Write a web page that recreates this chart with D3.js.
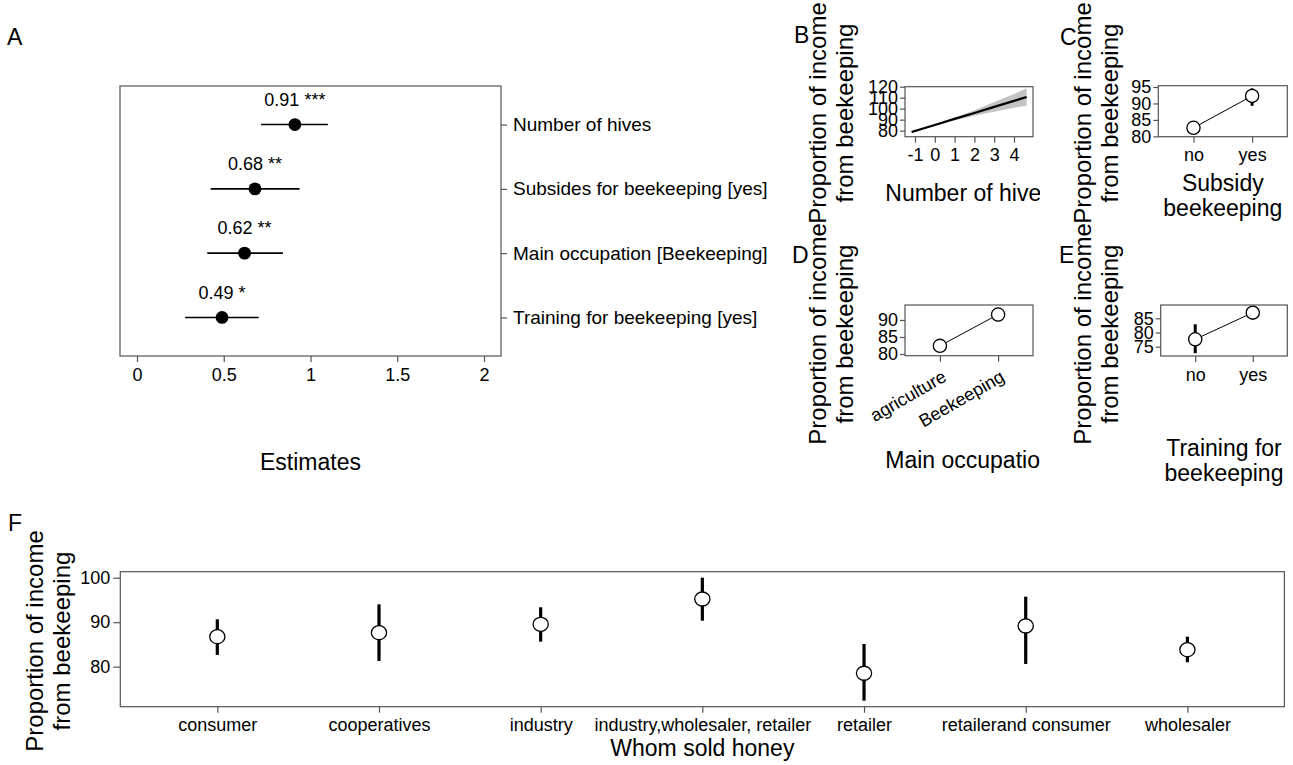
<!DOCTYPE html>
<html>
<head>
<meta charset="utf-8">
<script src="https://cdn.jsdelivr.net/npm/d3@7"></script>
<style>
  body  { margin: 0; background: #fff; }
  svg   { font-family: "Liberation Sans", Arial, sans-serif; }
  .frame { fill: none; stroke: #555; stroke-width: 1.2; }
  .letter { font-size: 23px; }
  .title  { font-size: 23px; text-anchor: middle; }
</style>
</head>
<body>
<script>
// Panel A - model estimates
var estTerms = ["Number of hives", "Subsides for beekeeping [yes]", "Main occupation [Beekeeping]", "Training for beekeeping [yes]"]
var estValue = [0.91, 0.68, 0.62, 0.49]
var estLow   = [0.715, 0.425, 0.405, 0.277]
var estHigh  = [1.10, 0.937, 0.841, 0.701]
var estStars = ["***", "**", "**", "*"]
var estTicks = [0, 0.5, 1, 1.5, 2]

// Panel B - number of hives (fit + ribbon)
var hivesX    = [-1.17, 0, 1, 2, 3, 4, 4.64]
var hivesFit  = [78.8, 85.2, 90.7, 96.1, 101.6, 107.1, 110.6]
var hivesLow  = [77.8, 84.4, 89.5, 93.6, 97.1, 100.8, 102.6]
var hivesHigh = [79.8, 86.0, 91.9, 98.6, 106.1, 113.4, 118.6]
var hivesXTicks = [-1, 0, 1, 2, 3, 4]
var hivesYTicks = [80, 90, 100, 110, 120]

// Panel C - subsidy
var subsidyCats = ["no", "yes"]
var subsidyMean = [82.6, 92.3]
var subsidyLow  = [81.2, 89.3]
var subsidyHigh = [84.0, 94.6]
var subsidyTicks = [80, 85, 90, 95]

// Panel D - main occupation
var occCats = ["agriculture", "Beekeeping"]
var occMean = [82.4, 91.6]
var occLow  = [81.0, 89.6]
var occHigh = [83.8, 93.3]
var occTicks = [80, 85, 90]

// Panel E - training
var trainCats = ["no", "yes"]
var trainMean = [77.6, 87.0]
var trainLow  = [72.7, 85.8]
var trainHigh = [82.9, 88.2]
var trainTicks = [75, 80, 85]

// Panel F - whom sold honey
var buyers     = ["consumer", "cooperatives", "industry", "industry,wholesaler, retailer", "retailer", "retailerand consumer", "wholesaler"]
var buyerMean  = [86.74, 87.64, 89.53, 95.21, 78.52, 89.15, 83.82]
var buyerLow   = [82.63, 81.28, 85.62, 90.34, 72.36, 80.61, 80.99]
var buyerHigh  = [90.65, 94.02, 93.35, 100.0, 85.10, 95.73, 86.74]
var buyerTicks = [80, 90, 100]

var TICK_SIZE = 18

var svg = d3.select("body").append("svg")
            .attr("width", 1293)
            .attr("height", 765)

// Clip for the B/D column (x titles are cut in the original)
svg.append("clipPath").attr("id", "clipBD")
   .append("rect").attr("x", 0).attr("y", 0).attr("width", 1040).attr("height", 765)

// Group translated to a panel's top-left corner
var panel = function (parent, box) {
  var g = parent.append("g")
                .attr("transform", "translate(" + box.x + "," + box.y + ")")
  return g
}

var frame = function (g, box) {
  g.append("rect")
   .attr("class", "frame")
   .attr("width", box.w)
   .attr("height", box.h)
}

// Axis cleanup: no domain line, grey ticks, bigger black labels
var styleAxis = function (g, size) {
  g.attr("font-family", null).attr("font-size", null)
  g.select(".domain").remove()
  g.selectAll(".tick line").attr("stroke", "#555").attr("stroke-width", 1.2)
  g.selectAll("text").attr("fill", "#000").style("font-size", (size || TICK_SIZE) + "px")
}

// Two line rotated y title
var yTitle = function (x, cy, lines) {
  var _lines = lines || ["Proportion of income", "from beekeeping"]
  _lines.forEach(function (l, i) {
    svg.append("text")
       .attr("class", "title")
       .attr("transform", "translate(" + (x + i * 27) + "," + cy + ") rotate(-90)")
       .attr("dy", "0.35em")
       .style("font-size", "24px")
       .text(l)
  })
}

var xTitle = function (parent, x, y, lines) {
  lines.forEach(function (l, i) {
    parent.append("text")
          .attr("class", "title")
          .attr("x", x)
          .attr("y", y + i * 25)
          .attr("dy", "0.35em")
          .text(l)
  })
}

var letter = function (t, x, y) {
  svg.append("text").attr("class", "letter").attr("x", x).attr("y", y).text(t)
}

// ---------------- Panel A ----------------
var aBox = { x: 120, y: 86, w: 381, h: 270 }
var gA   = panel(svg, aBox)
var xA   = d3.scaleLinear().domain([-0.098, 2.098]).range([0, aBox.w])
var yA   = d3.scalePoint().domain(estTerms).range([0, aBox.h]).padding(0.6)

gA.append("g")
  .attr("transform", "translate(0," + aBox.h + ")")
  .call(d3.axisBottom(xA).tickValues(estTicks).tickFormat(d3.format("~g")).tickSize(6).tickPadding(6))
  .call(styleAxis)
gA.append("g")
  .attr("transform", "translate(" + aBox.w + ",0)")
  .call(d3.axisRight(yA).tickSize(6).tickPadding(6))
  .call(styleAxis, 19)
frame(gA, aBox)

var rowsA = gA.selectAll(".est")
              .data(estTerms)
              .enter()
                .append("g")
                  .attr("class", "est")
rowsA.append("line")
     .attr("x1", function (d, i) { return xA(estLow[i]) })
     .attr("x2", function (d, i) { return xA(estHigh[i]) })
     .attr("y1", function (d) { return yA(d) })
     .attr("y2", function (d) { return yA(d) })
     .attr("stroke", "#000")
     .attr("stroke-width", 1.6)
rowsA.append("circle")
     .attr("cx", function (d, i) { return xA(estValue[i]) })
     .attr("cy", function (d) { return yA(d) })
     .attr("r", 6.4)
     .attr("fill", "#000")
rowsA.append("text")
     .attr("x", function (d, i) { return xA(estValue[i]) })
     .attr("y", function (d) { return yA(d) - 25 })
     .attr("dy", "0.35em")
     .attr("text-anchor", "middle")
     .style("font-size", "18px")
     .text(function (d, i) { return d3.format(".2f")(estValue[i]) + " " + estStars[i] })

xTitle(svg, aBox.x + aBox.w / 2, 462, ["Estimates"])
letter("A", 7, 45)

// ---------------- Panel B ----------------
var gBD  = svg.append("g").attr("clip-path", "url(#clipBD)")
var bBox = { x: 905, y: 86.7, w: 128, h: 50 }
var gB   = panel(gBD, bBox)
var xB   = d3.scaleLinear().domain([-1.505, 4.96]).range([0, bBox.w])
var yB   = d3.scaleLinear().domain([74.5, 120]).range([bBox.h, 0])

gB.append("g")
  .attr("transform", "translate(0," + bBox.h + ")")
  .call(d3.axisBottom(xB).tickValues(hivesXTicks).tickFormat(String).tickSize(6).tickPadding(6))
  .call(styleAxis)
gB.append("g")
  .call(d3.axisLeft(yB).tickValues(hivesYTicks).tickFormat(String).tickSize(5).tickPadding(2))
  .call(styleAxis)

var ribbon = d3.area()
               .x(function (d, i) { return xB(hivesX[i]) })
               .y0(function (d, i) { return yB(hivesLow[i]) })
               .y1(function (d, i) { return yB(hivesHigh[i]) })
var fitLine = d3.line()
                .x(function (d, i) { return xB(hivesX[i]) })
                .y(function (d, i) { return yB(hivesFit[i]) })
gB.append("path")
  .attr("d", ribbon(hivesX))
  .attr("fill", "#c4c4c4")
gB.append("path")
  .attr("d", fitLine(hivesX))
  .attr("fill", "none")
  .attr("stroke", "#000")
  .attr("stroke-width", 2.2)
frame(gB, bBox)
xTitle(gBD, bBox.x + bBox.w / 2, 193, ["Number of hives"])

// ---------------- Category panels C, D, E ----------------
var catPanel = function (parent, box, cats, mean, low, high, yDom, ticks, rotate) {
  var g = panel(parent, box)
  var x = d3.scalePoint().domain(cats).range([0, box.w]).padding(0.6)
  var y = d3.scaleLinear().domain(yDom).range([box.h, 0])

  var ax = g.append("g")
            .attr("transform", "translate(0," + box.h + ")")
            .call(d3.axisBottom(x).tickSize(6).tickPadding(6))
            .call(styleAxis)
  if (rotate) {
    ax.selectAll("text")
      .attr("y", 0)
      .attr("dy", "0.35em")
      .attr("text-anchor", "end")
      .attr("transform", "translate(4,19) rotate(-30)")
  }
  g.append("g")
   .call(d3.axisLeft(y).tickValues(ticks).tickSize(5).tickPadding(2))
   .call(styleAxis)
  frame(g, box)

  // Error bars
  g.selectAll(".err")
   .data(cats)
   .enter()
     .append("line")
       .attr("x1", function (d) { return x(d) })
       .attr("x2", function (d) { return x(d) })
       .attr("y1", function (d, i) { return y(low[i]) })
       .attr("y2", function (d, i) { return y(high[i]) })
       .attr("stroke", "#000")
       .attr("stroke-width", 3)
  // Connecting line
  g.append("path")
   .attr("d", d3.line()
                .x(function (d) { return x(d) })
                .y(function (d, i) { return y(mean[i]) })(cats))
   .attr("fill", "none")
   .attr("stroke", "#000")
   .attr("stroke-width", 1)
  g.selectAll(".pt")
   .data(cats)
   .enter()
     .append("circle")
       .attr("cx", function (d) { return x(d) })
       .attr("cy", function (d, i) { return y(mean[i]) })
       .attr("r", 6.6)
       .attr("fill", "#fff")
       .attr("stroke", "#000")
       .attr("stroke-width", 1.3)
  return g
}

var cBox = { x: 1158.3, y: 85.7, w: 129, h: 51 }
catPanel(svg, cBox, subsidyCats, subsidyMean, subsidyLow, subsidyHigh, [79.9, 95.4], subsidyTicks)
xTitle(svg, cBox.x + cBox.w / 2, 183, ["Subsidy", "beekeeping"])

var dBox = { x: 905, y: 305, w: 128, h: 50.7 }
catPanel(gBD, dBox, occCats, occMean, occLow, occHigh, [79.5, 94.4], occTicks, true)
xTitle(gBD, dBox.x + dBox.w / 2, 460, ["Main occupation"])

var eBox = { x: 1160.7, y: 305, w: 126.6, h: 51 }
catPanel(svg, eBox, trainCats, trainMean, trainLow, trainHigh, [71.7, 89.7], trainTicks)
xTitle(svg, eBox.x + eBox.w / 2, 448, ["Training for", "beekeeping"])

yTitle(818, 113)
yTitle(1083, 113)
yTitle(818, 334)
yTitle(1083, 334)
letter("B", 794, 43)
letter("C", 1060, 45)
letter("D", 792, 263)
letter("E", 1059, 263)

// ---------------- Panel F ----------------
var fBox = { x: 120.3, y: 571.7, w: 1164.1, h: 135 }
var gF   = panel(svg, fBox)
var xF   = d3.scalePoint().domain(buyers).range([0, fBox.w]).padding(0.6)
var yF   = d3.scaleLinear().domain([71.0, 101.35]).range([fBox.h, 0])

gF.append("g")
  .attr("transform", "translate(0," + fBox.h + ")")
  .call(d3.axisBottom(xF).tickSize(6).tickPadding(6))
  .call(styleAxis)
gF.append("g")
  .call(d3.axisLeft(yF).tickValues(buyerTicks).tickSize(7).tickPadding(3))
  .call(styleAxis)
frame(gF, fBox)

gF.selectAll(".err")
  .data(buyers)
  .enter()
    .append("line")
      .attr("x1", function (d) { return xF(d) })
      .attr("x2", function (d) { return xF(d) })
      .attr("y1", function (d, i) { return yF(buyerLow[i]) })
      .attr("y2", function (d, i) { return yF(buyerHigh[i]) })
      .attr("stroke", "#000")
      .attr("stroke-width", 3.2)
gF.selectAll(".pt")
  .data(buyers)
  .enter()
    .append("ellipse")
      .attr("cx", function (d) { return xF(d) })
      .attr("cy", function (d, i) { return yF(buyerMean[i]) })
      .attr("rx", 7.6)
      .attr("ry", 7)
      .attr("fill", "#fff")
      .attr("stroke", "#000")
      .attr("stroke-width", 1.3)

xTitle(svg, fBox.x + fBox.w / 2, 748, ["Whom sold honey"])
yTitle(35, 641)
letter("F", 8, 531)
</script>
</body>
</html>
